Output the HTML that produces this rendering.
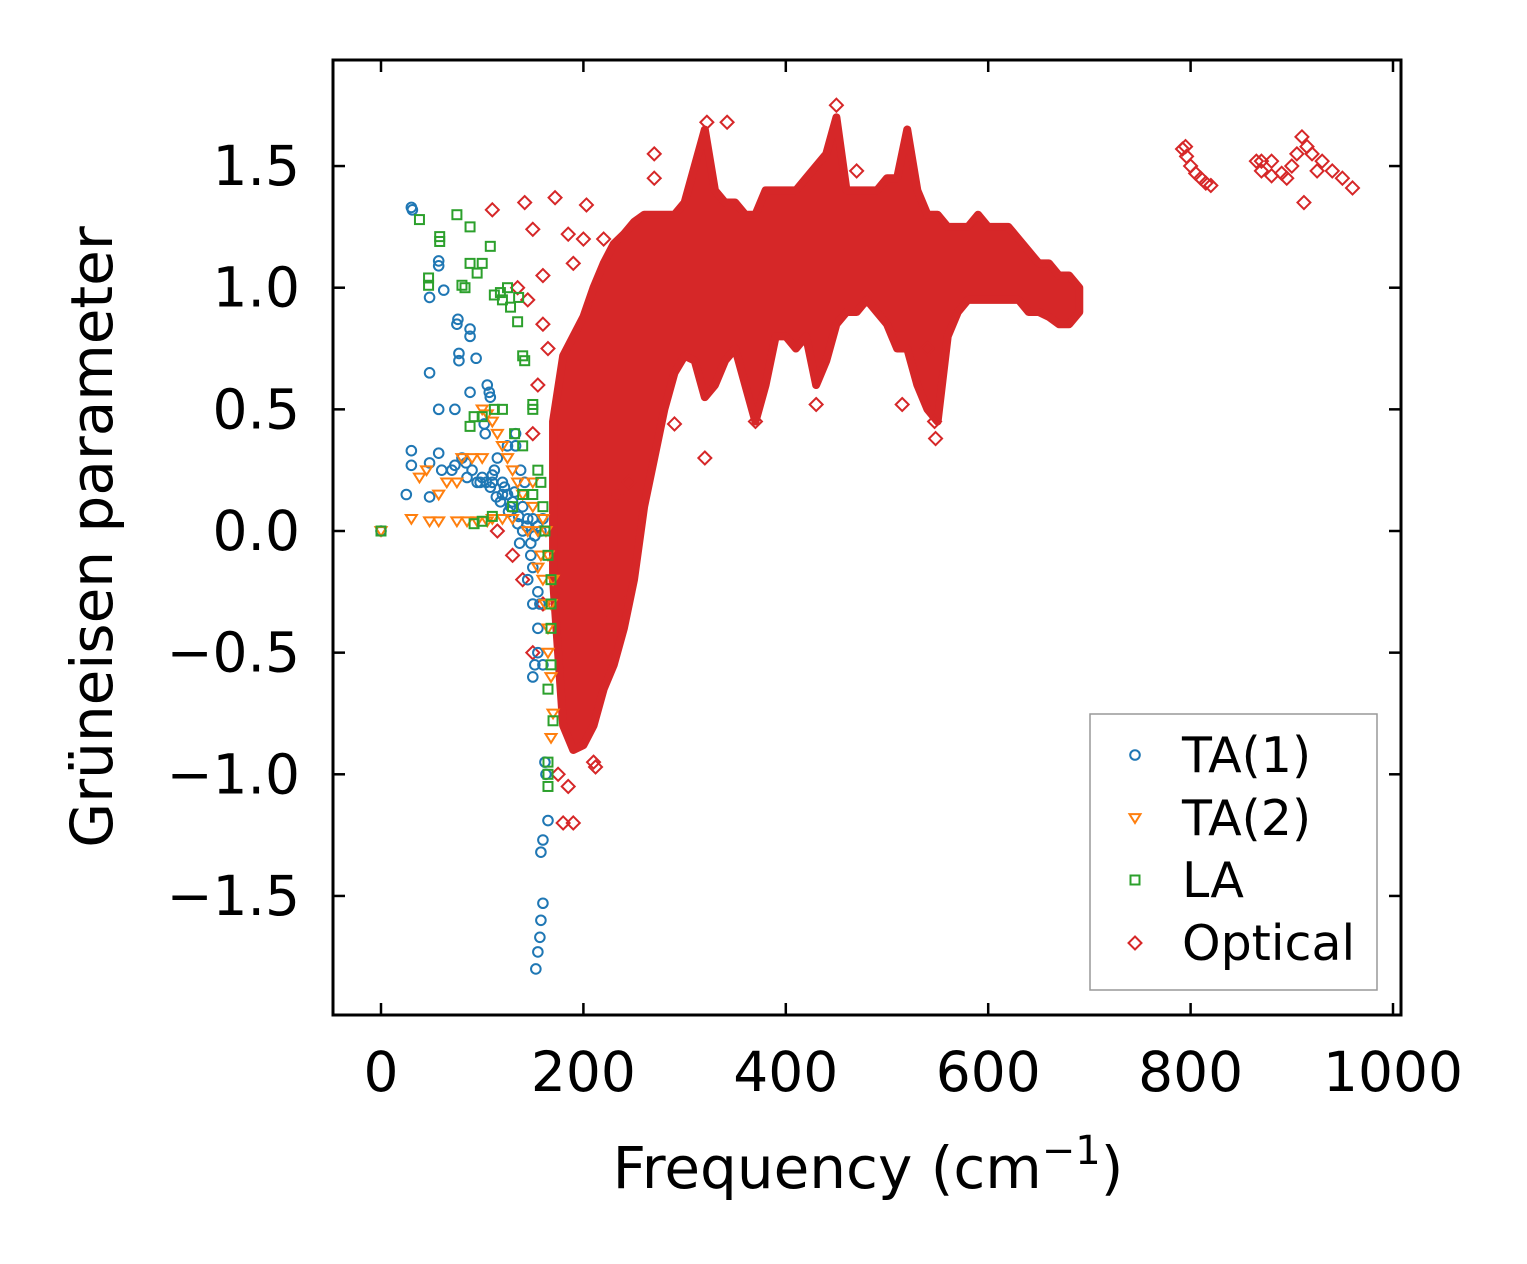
<!DOCTYPE html>
<html><head><meta charset="utf-8"><style>
html,body{margin:0;padding:0;background:#fff;}
svg{display:block;font-family:"DejaVu Sans","Liberation Sans",sans-serif;}
</style></head><body>
<svg id="chart" width="1527" height="1264" viewBox="0 0 1527 1264" xmlns="http://www.w3.org/2000/svg">
<rect width="1527" height="1264" fill="#fff"/>
<g id="plot"></g>
<g id="axes"></g>
</svg>
<script>
const xTicks=[0,200,400,600,800,1000];
const xTickLabels=["0","200","400","600","800","1000"];
const yTicks=[-1.5,-1.0,-0.5,0.0,0.5,1.0,1.5];
const yTickLabels=["\u22121.5","\u22121.0","\u22120.5","0.0","0.5","1.0","1.5"];

const opticalFreq=[170,180,190,200,210,220,230,240,250,260,270,280,290,300,310,320,330,340,350,360,370,380,390,400,410,420,430,440,450,460,470,480,490,500,510,520,530,540,550,560,570,580,590,600,610,620,630,640,650,660,670,680,690];
const opticalLow=[-0.2,-0.8,-0.9,-0.88,-0.8,-0.65,-0.55,-0.4,-0.2,0.1,0.3,0.5,0.65,0.72,0.7,0.55,0.6,0.7,0.75,0.6,0.45,0.6,0.8,0.8,0.75,0.8,0.6,0.7,0.85,0.9,0.9,0.95,0.9,0.85,0.75,0.75,0.6,0.5,0.45,0.8,0.9,0.95,0.95,0.95,0.95,0.95,0.95,0.9,0.9,0.88,0.85,0.85,0.9];
const opticalHigh=[0.45,0.72,0.8,0.88,1.0,1.1,1.18,1.22,1.27,1.3,1.3,1.3,1.3,1.35,1.5,1.65,1.4,1.35,1.35,1.3,1.3,1.4,1.4,1.4,1.4,1.45,1.5,1.55,1.7,1.4,1.4,1.4,1.4,1.45,1.45,1.65,1.4,1.3,1.3,1.25,1.25,1.25,1.3,1.25,1.25,1.25,1.2,1.15,1.1,1.1,1.05,1.05,1.0];
const opticalX=[792,795,796,800,805,810,815,820,865,870,870,880,880,890,895,900,905,910,912,915,920,925,930,940,950,960,110,142,172,203,150,270,270,320,160,135,145,165,185,190,185,180,175,140,130,115,150,155,370,430,548,547,515,230,240,210,212,220,190,200,232,245,150,160,160,540,290,470,450,322,342];
const opticalY=[1.57,1.58,1.54,1.5,1.47,1.45,1.43,1.42,1.52,1.48,1.52,1.46,1.52,1.47,1.45,1.5,1.55,1.62,1.35,1.58,1.55,1.48,1.52,1.48,1.45,1.41,1.32,1.35,1.37,1.34,1.24,1.55,1.45,0.3,1.05,1.0,0.95,0.75,1.22,-1.2,-1.05,-1.2,-1.0,-0.2,-0.1,0.0,0.4,0.6,0.45,0.52,0.38,0.45,0.52,-0.35,-0.3,-0.95,-0.97,1.2,1.1,1.2,0.15,0.2,-0.5,0.85,-0.3,0.75,0.44,1.48,1.75,1.68,1.68];

const ta1X=[0,25,30,31,30,30,48,48,48,48,57,57,57,57,62,73,73,75,76,77,77,84,88,88,88,94,98,102,103,105,107,108,110,115,120,125,130,135,137,140,145,150,155,157,155,150,152,150,155,162,163,165,160,158,160,158,157,155,153,138,142,80,90,100,110,120,128,140,145,148,150,155,160,133,125,133,112,60,70,85,95,158,160,148,118,122,126,132,136,144,152,104,108,114];
const ta1Y=[0,0.15,1.33,1.32,0.33,0.27,0.96,0.65,0.28,0.14,1.11,1.09,0.5,0.32,0.99,0.5,0.27,0.85,0.87,0.7,0.73,0.28,0.83,0.8,0.57,0.71,0.2,0.44,0.4,0.6,0.57,0.55,0.23,0.3,0.15,0.15,0.12,0.03,-0.05,0.0,0.05,0.05,0.02,-0.3,-0.25,-0.15,-0.55,-0.6,-0.5,-0.95,-1.0,-1.19,-1.27,-1.32,-1.53,-1.6,-1.67,-1.73,-1.8,0.25,0.2,0.3,0.25,0.22,0.2,0.2,0.1,0.1,-0.2,-0.1,-0.3,-0.4,-0.55,0.35,0.35,0.4,0.25,0.25,0.25,0.22,0.2,0.0,0.05,-0.05,0.12,0.18,0.08,0.16,0.06,0.02,-0.02,0.2,0.18,0.14];

const ta2X=[0,30,48,57,75,85,95,105,38,45,57,65,75,100,105,110,115,120,125,130,135,140,150,155,158,160,162,165,165,168,170,168,150,160,165,170,100,90,80,110,120,130,145,155,163,168];
const ta2Y=[0,0.05,0.04,0.04,0.04,0.04,0.04,0.04,0.22,0.25,0.15,0.2,0.2,0.5,0.48,0.45,0.4,0.35,0.3,0.25,0.2,0.15,0.1,0.0,-0.1,-0.2,-0.3,-0.4,-0.5,-0.6,-0.75,-0.85,0.2,0.05,-0.1,-0.2,0.3,0.3,0.3,0.05,0.05,0.05,0.0,-0.15,0.0,-0.3];

const laX=[0,38,47,47,58,58,75,80,83,88,88,95,100,108,112,118,120,125,128,135,136,140,142,88,92,100,112,120,132,140,150,150,155,158,160,162,165,168,168,168,165,170,165,165,165,168,92,100,110,130,140,150];
const laY=[0,1.28,1.04,1.01,1.21,1.19,1.3,1.01,1.0,1.25,1.1,1.06,1.1,1.17,0.97,0.98,0.95,1.0,0.92,0.86,0.96,0.72,0.7,0.43,0.47,0.47,0.5,0.5,0.4,0.35,0.5,0.52,0.25,0.2,0.1,0.0,-0.1,-0.2,-0.4,-0.55,-0.65,-0.78,-0.95,-1.0,-1.05,-0.3,0.03,0.04,0.06,0.1,0.15,0.15];

const NS="http://www.w3.org/2000/svg";
const L=333,R=1401,T=60,B=1015;
function sx(v){return 381+v*1.012;}
function sy(v){return 531-v*243.3;}
const plot=document.getElementById('plot');
const axes=document.getElementById('axes');
function mk(tag,attrs,parent){const e=document.createElementNS(NS,tag);for(const k in attrs)e.setAttribute(k,attrs[k]);parent.appendChild(e);return e;}

const C1="#1f77b4",C2="#ff7f0e",C3="#2ca02c",C4="#d62728";

let pts=[];
for(let i=0;i<opticalFreq.length;i++)pts.push(sx(opticalFreq[i])+","+sy(opticalHigh[i]));
for(let i=opticalFreq.length-1;i>=0;i--)pts.push(sx(opticalFreq[i])+","+sy(opticalLow[i]));
const band=mk('polygon',{points:pts.join(' '),fill:C4,stroke:C4,'stroke-width':8,'stroke-linejoin':'round'},plot);



function diamond(x,y,s){return `M${x},${y-s}L${x+s},${y}L${x},${y+s}L${x-s},${y}Z`;}
for(let i=0;i<opticalX.length;i++){
  const p=mk('path',{d:diamond(sx(opticalX[i]),sy(opticalY[i]),6.5),fill:'none',stroke:C4,'stroke-width':2},plot);
  
  
}
for(let i=0;i<ta1X.length;i++){
  const p=mk('circle',{cx:sx(ta1X[i]),cy:sy(ta1Y[i]),r:4.8,fill:'none',stroke:C1,'stroke-width':2},plot);
  
  
}
function tri(x,y,s){return `M${x-s},${y-s*0.7}L${x+s},${y-s*0.7}L${x},${y+s*0.9}Z`;}
for(let i=0;i<ta2X.length;i++){
  const p=mk('path',{d:tri(sx(ta2X[i]),sy(ta2Y[i]),5.5),fill:'none',stroke:C2,'stroke-width':2},plot);
  
  
}
for(let i=0;i<laX.length;i++){
  const p=mk('rect',{x:sx(laX[i])-4.5,y:sy(laY[i])-4.5,width:9,height:9,fill:'none',stroke:C3,'stroke-width':2},plot);
  
  
}

const fr=mk('rect',{x:L,y:T,width:R-L,height:B-T,fill:'none',stroke:'#000','stroke-width':3},axes);


for(let i=0;i<xTicks.length;i++){
  const x=sx(xTicks[i]);
  mk('line',{x1:x,y1:B,x2:x,y2:B-12,stroke:'#000','stroke-width':2.5},axes);
  mk('line',{x1:x,y1:T,x2:x,y2:T+12,stroke:'#000','stroke-width':2.5},axes);
  const t=mk('text',{x:x,y:1091,'text-anchor':'middle','font-size':55,fill:'#000'},axes);
  t.textContent=xTickLabels[i];
  
  
}
for(let i=0;i<yTicks.length;i++){
  const y=sy(yTicks[i]);
  mk('line',{x1:L,y1:y,x2:L+12,y2:y,stroke:'#000','stroke-width':2.5},axes);
  mk('line',{x1:R,y1:y,x2:R-12,y2:y,stroke:'#000','stroke-width':2.5},axes);
  const t=mk('text',{x:300,y:y+19,'text-anchor':'end','font-size':55,fill:'#000'},axes);
  t.textContent=yTickLabels[i];
  
  
}
const xl=mk('text',{x:868,y:1188,'text-anchor':'middle','font-size':58,fill:'#000'},axes);
xl.innerHTML='Frequency (cm<tspan dy="-24" font-size="40">\u22121</tspan><tspan dy="24">)</tspan>';


const yl=mk('text',{x:0,y:0,'text-anchor':'middle','font-size':58,fill:'#000',transform:'translate(112,537) rotate(-90)'},axes);
yl.textContent='Grüneisen parameter';



const lg=mk('g',{},axes);


mk('rect',{x:1090,y:714,width:287,height:276,fill:'#fff',stroke:'#999','stroke-width':1.5},lg);
const names=["TA(1)","TA(2)","LA","Optical"];
const ys=[755,818,880,943];
for(let i=0;i<4;i++){
  const y=ys[i],x=1135;
  if(i===0)mk('circle',{cx:x,cy:y,r:4.8,fill:'none',stroke:C1,'stroke-width':2},lg);
  if(i===1)mk('path',{d:tri(x,y,5.5),fill:'none',stroke:C2,'stroke-width':2},lg);
  if(i===2)mk('rect',{x:x-4.5,y:y-4.5,width:9,height:9,fill:'none',stroke:C3,'stroke-width':2},lg);
  if(i===3)mk('path',{d:diamond(x,y,6.5),fill:'none',stroke:C4,'stroke-width':2},lg);
  const t=mk('text',{x:1182,y:y+17,'font-size':49,fill:'#000'},lg);
  t.textContent=names[i];
  
  
}
</script>
</body></html>
